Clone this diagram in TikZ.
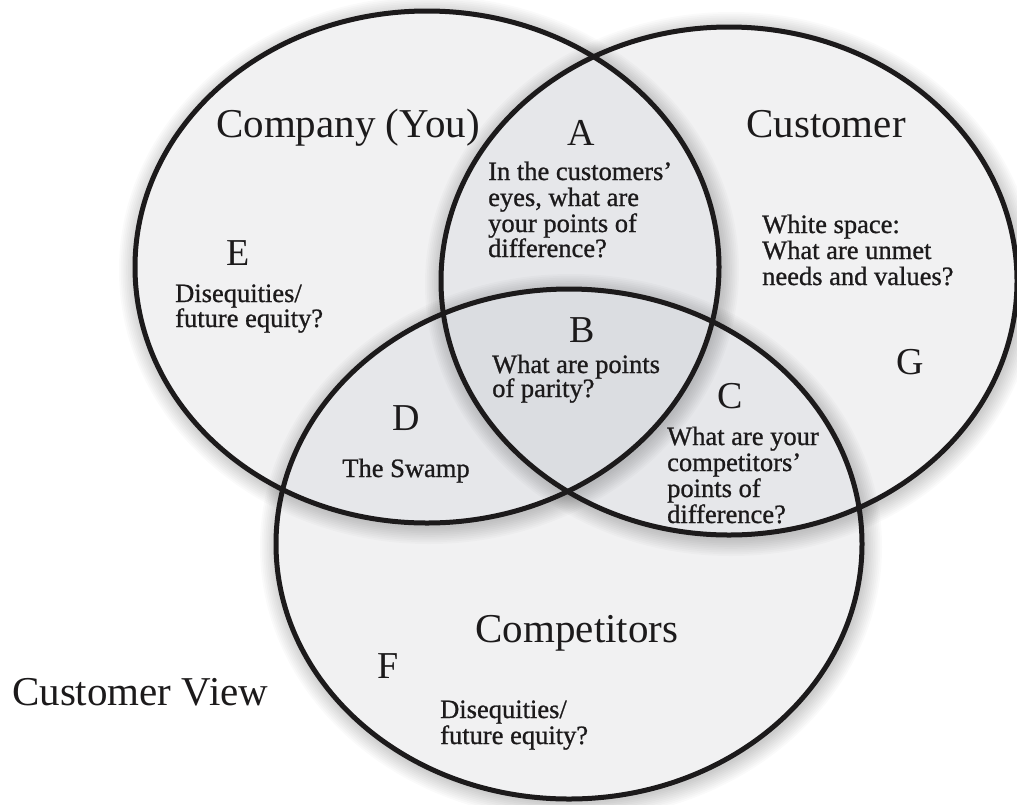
\documentclass[tikz,border=0pt]{standalone}
\usepackage{fontspec}
\setmainfont{Liberation Serif}
\newfontfamily\regionfont{Liberation Serif}[FakeBold=0.9]
\definecolor{fillone}{RGB}{241,241,242}
\definecolor{filltwo}{RGB}{230,231,234}
\definecolor{fillthree}{RGB}{219,221,225}
\definecolor{ink}{RGB}{28,26,27}
\begin{document}
\begin{tikzpicture}[x=1pt,y=-1pt,
  big/.style={font=\fontsize{41}{41}\selectfont, inner sep=0pt, anchor=base, text=ink},
  letter/.style={font=\fontsize{38}{38}\selectfont, inner sep=0pt, anchor=base, text=ink},
  small/.style={font=\regionfont\fontsize{26.5}{26}\selectfont, inner sep=0pt, anchor=base west, text=ink},
  ring/.style={line width=5pt, draw=ink},
  shade/.style={fill=black, opacity=0.02}
]
\useasboundingbox (0,0) rectangle (1017,804);
\fill[white] (0,0) rectangle (1017,804);

% base fills
\fill[fillone] (427,267) ellipse [x radius=292pt, y radius=256pt];
\fill[fillone] (729,281) ellipse [x radius=288pt, y radius=254pt];
\fill[fillone] (569,544) ellipse [x radius=293pt, y radius=255pt];
% pairwise overlaps
\begin{scope}
  \clip (427,267) ellipse [x radius=292pt, y radius=256pt];
  \fill[filltwo] (729,281) ellipse [x radius=288pt, y radius=254pt];
  \fill[filltwo] (569,544) ellipse [x radius=293pt, y radius=255pt];
\end{scope}
\begin{scope}
  \clip (729,281) ellipse [x radius=288pt, y radius=254pt];
  \fill[filltwo] (569,544) ellipse [x radius=293pt, y radius=255pt];
\end{scope}
% triple overlap
\begin{scope}
  \clip (427,267) ellipse [x radius=292pt, y radius=256pt];
  \clip (729,281) ellipse [x radius=288pt, y radius=254pt];
  \fill[fillthree] (569,544) ellipse [x radius=293pt, y radius=255pt];
\end{scope}

% soft shadows cast outside each disk
\begin{scope}[even odd rule]
  \clip (-20,-20) rectangle (1040,830) (427,267) ellipse [x radius=292pt, y radius=256pt];
  \foreach \k in {1,...,10} {
    \fill[shade] (429,270) ellipse [x radius={(292+1.8*\k)*1pt}, y radius={(256+1.8*\k)*1pt}];
  }
\end{scope}
\begin{scope}[even odd rule]
  \clip (-20,-20) rectangle (1040,830) (729,281) ellipse [x radius=288pt, y radius=254pt];
  \foreach \k in {1,...,10} {
    \fill[shade] (731,284) ellipse [x radius={(288+1.8*\k)*1pt}, y radius={(254+1.8*\k)*1pt}];
  }
\end{scope}
\begin{scope}[even odd rule]
  \clip (-20,-20) rectangle (1040,830) (569,544) ellipse [x radius=293pt, y radius=255pt];
  \foreach \k in {1,...,10} {
    \fill[shade] (571,547) ellipse [x radius={(293+1.8*\k)*1pt}, y radius={(255+1.8*\k)*1pt}];
  }
\end{scope}

% outlines
\draw[ring] (427,267) ellipse [x radius=292pt, y radius=256pt];
\draw[ring] (729,281) ellipse [x radius=288pt, y radius=254pt];
\draw[ring] (569,544) ellipse [x radius=293pt, y radius=255pt];

% titles
\node[big] (company) at (348,137) {Company (You)};
\node[big] (customer) at (826,137) {Customer};
\node[big] (competitors) at (577,642) {Competitors};
\node[big, anchor=base west] (view) at (12,705) {Customer View};

% region letters
\node[letter] (la) at (581,145) {A};
\node[letter] (lb) at (582,342) {B};
\node[letter] (lc) at (730,408) {C};
\node[letter] (ld) at (406,430) {D};
\node[letter] (le) at (238,265) {E};
\node[letter] (lf) at (388,678) {F};
\node[letter] (lg) at (910,374) {G};

% region A text
\node[small] (a1) at (488,180) {In the customers’};
\node[small] (a2) at (488,206) {eyes, what are};
\node[small] (a3) at (488,232) {your points of};
\node[small] (a4) at (488,257) {difference?};
% white space text
\node[small] (w1) at (762,233) {White space:};
\node[small] (w2) at (762,259) {What are unmet};
\node[small] (w3) at (762,285) {needs and values?};
% region E text
\node[small] (e1) at (175,302) {Disequities/};
\node[small] (e2) at (175,327) {future equity?};
% region B text
\node[small] (b1) at (492,373) {What are points};
\node[small] (b2) at (492,397) {of parity?};
% region C text
\node[small] (c1) at (667,445) {What are your};
\node[small] (c2) at (667,471) {competitors’};
\node[small] (c3) at (667,497) {points of};
\node[small] (c4) at (667,523) {difference?};
% region D text
\node[small, anchor=base] (d1) at (406,477) {The Swamp};
% region F text
\node[small] (f1) at (440,718) {Disequities/};
\node[small] (f2) at (440,744) {future equity?};
\end{tikzpicture}
\end{document}
